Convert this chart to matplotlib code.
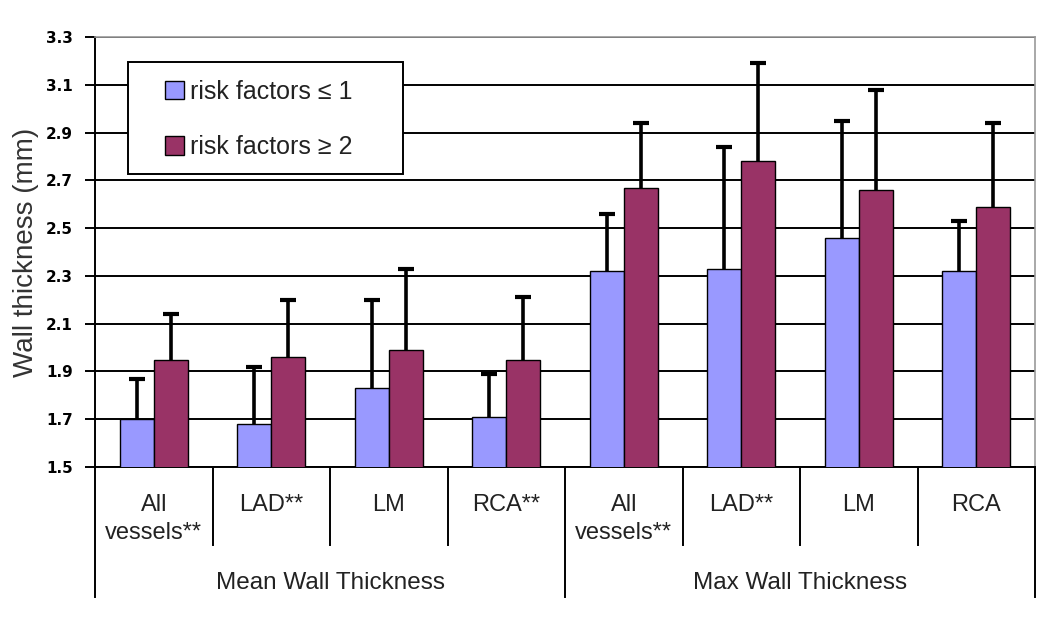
import matplotlib
matplotlib.use("Agg")
import matplotlib.pyplot as plt
from matplotlib.patches import Rectangle
import numpy as np

# values
categories = ["All\nvessels**", "LAD**", "LM", "RCA**",
              "All\nvessels**", "LAD**", "LM", "RCA"]
groups = ["Mean Wall Thickness", "Max Wall Thickness"]
low_risk = [1.70, 1.68, 1.83, 1.71, 2.32, 2.33, 2.46, 2.32]
low_err = [0.17, 0.24, 0.37, 0.18, 0.24, 0.51, 0.49, 0.21]
high_risk = [1.95, 1.96, 1.99, 1.95, 2.67, 2.78, 2.66, 2.59]
high_err = [0.19, 0.24, 0.34, 0.26, 0.27, 0.41, 0.42, 0.35]
yticks = [1.5, 1.7, 1.9, 2.1, 2.3, 2.5, 2.7, 2.9, 3.1, 3.3]

BLUE = "#9999FF"
RED = "#993366"
SANS = ["Liberation Sans", "DejaVu Sans"]

fig = plt.figure(figsize=(10.5, 6.24), dpi=100)
ax = fig.add_axes([95 / 1050, 157 / 624, 940 / 1050, 430 / 624])

x = np.arange(len(categories)) + 0.5
w = 0.29
for xs, vals, errs, col, lab in [(x - w / 2, low_risk, low_err, BLUE, "risk factors \u2264 1"),
                                 (x + w / 2, high_risk, high_err, RED, "risk factors \u2265 2")]:
    vals = np.array(vals)
    errs = np.array(errs)
    ax.bar(xs, vals, w, color=col, edgecolor="black", linewidth=1, label=lab, zorder=3)
    # upper-only error bars
    ax.vlines(xs, vals, vals + errs, color="black", lw=2.6, zorder=4)
    ax.plot(xs, vals + errs, ls="none", marker="_", ms=11, mew=3, color="black", zorder=4)

ax.set_xlim(0, len(categories))
ax.set_ylim(1.5, 3.3)
ax.set_yticks(yticks)
ax.set_yticklabels([f"{t:.1f}" for t in yticks], fontsize=11, fontweight="bold",
                   family="DejaVu Sans")
ax.yaxis.grid(True, color="black", linewidth=1.4, zorder=0)
ax.set_axisbelow(True)
ax.tick_params(axis="y", length=7, width=1.4, pad=9)
ax.set_xticks([])
ax.set_ylabel("Wall thickness (mm)", fontsize=20, color="#333333", labelpad=5, family=SANS)

for side in ["top", "right"]:
    ax.spines[side].set_color("#999999")
    ax.spines[side].set_linewidth(1.2)
ax.spines["bottom"].set_linewidth(1.4)
ax.spines["left"].set_linewidth(1.4)

# two-level category axis
trans = ax.get_xaxis_transform()
inner_drop = -78 / 430
outer_drop = -130 / 430
for b in range(len(categories) + 1):
    bottom = outer_drop if b % 4 == 0 else inner_drop
    ax.plot([b, b], [0, bottom], color="black", lw=1.4, transform=trans, clip_on=False)
for xi, lab in zip(x, categories):
    ax.text(xi, -27 / 430, lab, transform=trans, ha="center", va="top",
            fontsize=17, color="#222222", linespacing=1.35, family=SANS)
for gi, g in enumerate(groups):
    ax.text(gi * 4 + 2, -116 / 430, g, transform=trans, ha="center", va="center",
            fontsize=17.5, color="#222222", family=SANS)

# legend: separate frame so the entries can sit inset like the original
ax.add_patch(Rectangle((33 / 940, 293 / 430), 275 / 940, 112 / 430, transform=ax.transAxes,
                       facecolor="white", edgecolor="black", linewidth=1.4, zorder=5))
leg = ax.legend(loc="upper left", bbox_to_anchor=(70 / 940, 1 - 43 / 430),
                prop={"family": SANS, "size": 18}, frameon=False,
                borderpad=0, labelspacing=1.25, handlelength=0.75, handleheight=0.75,
                handletextpad=0.25, borderaxespad=0)
leg.set_zorder(6)
for t in leg.get_texts():
    t.set_color("#222222")

fig.savefig("out.png", dpi=100)
